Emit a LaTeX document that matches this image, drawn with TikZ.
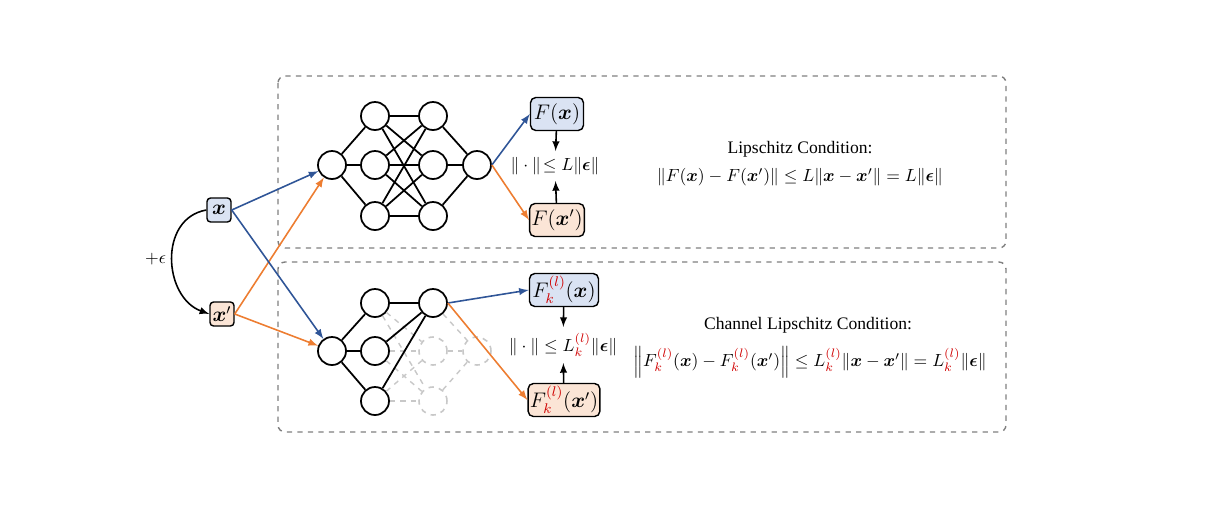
\documentclass[tikz,border=0pt]{standalone}
\usepackage{amsmath}
\usepackage{amssymb}
\usepackage{fontspec}
\setmainfont{Liberation Serif}
\usetikzlibrary{arrows,shapes,positioning}

\definecolor{lineblue}{HTML}{2F5597}
\definecolor{lineorange}{HTML}{ED7D31}
\definecolor{fillblue}{HTML}{DAE3F3}
\definecolor{fillorange}{HTML}{FBE5D6}
\definecolor{chred}{HTML}{D00000}
\definecolor{ghost}{HTML}{C8C8C8}

\newcommand{\Fkl}{F^{\textcolor{chred}{(l)}}_{\textcolor{chred}{k}}}
\newcommand{\Lkl}{L^{\textcolor{chred}{(l)}}_{\textcolor{chred}{k}}}
\newcommand{\bx}{\boldsymbol{x}}
\newcommand{\beps}{\boldsymbol{\epsilon}}

\tikzset{
	neuron/.style={draw, circle, line width=1pt, minimum size=0.56cm, inner sep=0pt},
	ghostneuron/.style={draw=ghost, dashed, circle, line width=0.9pt, minimum size=0.56cm, inner sep=0pt},
	inbox/.style={draw, rounded corners=2pt, line width=0.8pt, minimum size=0.48cm, inner sep=1pt, font=\large},
	outbox/.style={draw, rounded corners=3pt, line width=0.8pt, minimum height=0.66cm, inner sep=1pt, font=\large},
	wire/.style={line width=1pt},
	ghostwire/.style={draw=ghost, dashed, line width=0.8pt},
	frame/.style={draw=gray, dashed, line width=0.8pt, rounded corners=4pt}
}

\begin{document}
\begin{tikzpicture}[x=0.02cm, y=-0.02cm]
			\useasboundingbox (0,0) rectangle (1227,529);
			
			% frames
			\draw[frame] (278,76) rectangle (1006,248);
			\draw[frame] (278,262) rectangle (1006,432);
			
			% inputs
			\node[inbox, fill=fillblue] (x) at (219,210) {$\bx$};
			\node[inbox, fill=fillorange] (xp) at (222,314) {$\bx'$};
			\draw[->,>=latex, line width=0.9pt] (x.west) to[out=190, in=160, looseness=1.2] node[left=0pt] {$+\epsilon$} (xp.west);
			
			% top network
			\node[neuron] (Tin) at (332,165) {};
			\node[neuron] (T11) at (375,116) {};
			\node[neuron] (T12) at (375,165) {};
			\node[neuron] (T13) at (375,216) {};
			\node[neuron] (T21) at (433,116) {};
			\node[neuron] (T22) at (433,165) {};
			\node[neuron] (T23) at (433,216) {};
			\node[neuron] (Tout) at (477,165) {};
			
			\draw[wire] (Tin) -- (T11);
			\draw[wire] (Tin) -- (T12);
			\draw[wire] (Tin) -- (T13);
			\draw[wire] (T11) -- (T21);
			\draw[wire] (T11) -- (T22);
			\draw[wire] (T11) -- (T23);
			\draw[wire] (T12) -- (T21);
			\draw[wire] (T12) -- (T22);
			\draw[wire] (T12) -- (T23);
			\draw[wire] (T13) -- (T21);
			\draw[wire] (T13) -- (T22);
			\draw[wire] (T13) -- (T23);
			\draw[wire] (T21) -- (Tout);
			\draw[wire] (T22) -- (Tout);
			\draw[wire] (T23) -- (Tout);
			
			\node[outbox, fill=fillblue, minimum width=1.06cm] (Fx) at (557,114) {$F(\bx)$};
			\node[outbox, fill=fillorange, minimum width=1.06cm] (Fxp) at (557,220) {$F(\bx')$};
			\node (Tnorm) at (555,166) {$\|\cdot\|\!\leq L\|\beps\|$};
			\draw[->,>=latex, line width=0.9pt] (Fx) -- (Tnorm);
			\draw[->,>=latex, line width=0.9pt] (Fxp) -- (Tnorm);
			
			\draw[->,>=latex, line width=0.9pt, lineblue] (Tout.east) -- (Fx.west);
			\draw[->,>=latex, line width=0.9pt, lineorange] (Tout.east) -- (Fxp.west);
			
			\node (Tcap) at (800,149) {Lipschitz Condition:};
			\node (Tform) at (800,177) {$\|F(\bx)-F(\bx')\|\leq L\|\bx-\bx'\|=L\|\beps\|$};
			
			% bottom network
			\node[neuron] (Bin) at (332,351) {};
			\node[neuron] (B11) at (375,303) {};
			\node[neuron] (B12) at (375,351) {};
			\node[neuron] (B13) at (375,401) {};
			\node[neuron] (B21) at (433,303) {};
			\node[ghostneuron] (B22) at (433,351) {};
			\node[ghostneuron] (B23) at (433,401) {};
			\node[ghostneuron] (Bout) at (477,351) {};
			
			\draw[ghostwire] (B11) -- (B22);
			\draw[ghostwire] (B11) -- (B23);
			\draw[ghostwire] (B12) -- (B22);
			\draw[ghostwire] (B12) -- (B23);
			\draw[ghostwire] (B13) -- (B22);
			\draw[ghostwire] (B13) -- (B23);
			\draw[ghostwire] (B21) -- (Bout);
			\draw[ghostwire] (B22) -- (Bout);
			\draw[ghostwire] (B23) -- (Bout);
			\draw[wire] (Bin) -- (B11);
			\draw[wire] (Bin) -- (B12);
			\draw[wire] (Bin) -- (B13);
			\draw[wire] (B11) -- (B21);
			\draw[wire] (B12) -- (B21);
			\draw[wire] (B13) -- (B21);
			
			\node[outbox, fill=fillblue, minimum width=1.38cm] (Fkx) at (564,290) {$\Fkl(\bx)$};
			\node[outbox, fill=fillorange, minimum width=1.38cm] (Fkxp) at (564,400) {$\Fkl(\bx')$};
			\node (Bnorm) at (563,345) {$\|\cdot\|\leq \Lkl\|\beps\|$};
			\draw[->,>=latex, line width=0.9pt] (Fkx) -- (Bnorm);
			\draw[->,>=latex, line width=0.9pt] (Fkxp) -- (Bnorm);
			
			\draw[->,>=latex, line width=0.9pt, lineblue] (B21.east) -- (Fkx.west);
			\draw[->,>=latex, line width=0.9pt, lineorange] (B21.east) -- (Fkxp.west);
			
			\node (Bcap) at (808,325) {Channel Lipschitz Condition:};
			\node (Bform) at (810,362) {$\left\|\Fkl(\bx)-\Fkl(\bx')\right\|\leq \Lkl\|\bx-\bx'\|=\Lkl\|\beps\|$};
			
			% input wires
			\draw[->,>=latex, line width=0.9pt, lineblue] (x.east) -- (Tin);
			\draw[->,>=latex, line width=0.9pt, lineorange] (xp.east) -- (Tin);
			\draw[->,>=latex, line width=0.9pt, lineblue] (x.east) -- (Bin);
			\draw[->,>=latex, line width=0.9pt, lineorange] (xp.east) -- (Bin);
		\end{tikzpicture}
\end{document}
